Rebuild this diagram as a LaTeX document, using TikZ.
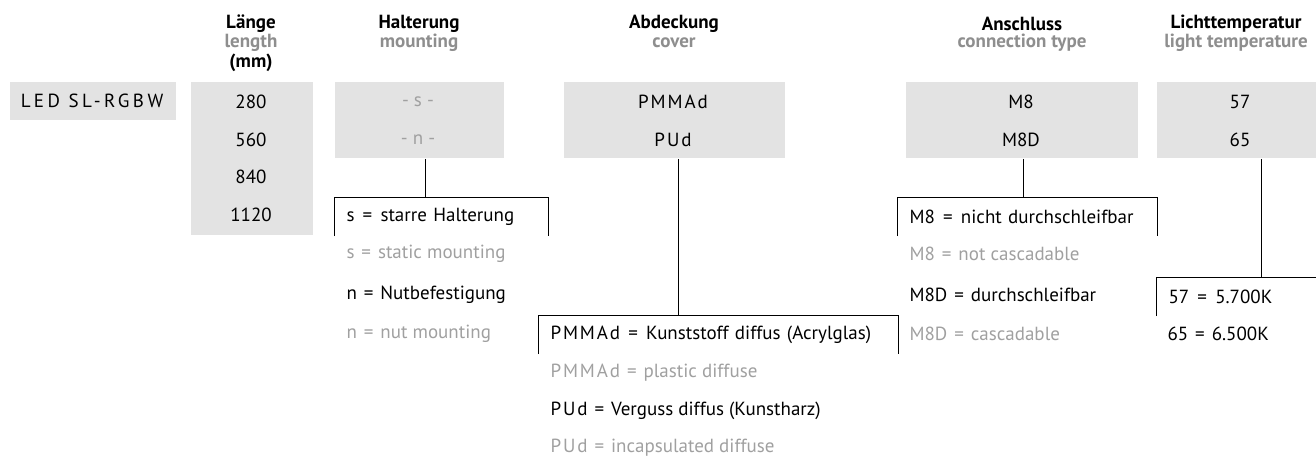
\documentclass[tikz,border=0pt]{standalone}
\usepackage{fontspec}
\setmainfont{PT Sans}
\usepackage{tikz}

\definecolor{boxgray}{HTML}{E3E3E3}
\definecolor{txtgray}{HTML}{A0A0A0}
\definecolor{headgray}{HTML}{8E8E8E}
\newcommand{\spaced}[1]{{\addfontfeature{LetterSpace=10}#1}}
\newcommand{\eq}{\ \hspace{0.1em}=\hspace{0.1em}\ }

\begin{document}
\begin{tikzpicture}[x=1pt,y=-1pt,
  every node/.style={font=\fontsize{19}{22}\selectfont},
  box/.style={fill=boxgray,inner sep=0pt,anchor=north west},
  head/.style={font=\fontsize{19}{22}\selectfont\bfseries},
  eng/.style={text=headgray},
  gr/.style={text=txtgray},
  leg/.style={anchor=west,inner sep=0pt},
  legbox/.style={anchor=north west,minimum height=38pt,inner xsep=12pt,inner ysep=0pt,align=left},
  line width=1pt]
\useasboundingbox (0,0) rectangle (1316,457);

% gray boxes
\node[box,minimum width=166pt,minimum height=38pt] (led) at (9,82) {};
\node[box,minimum width=122pt,minimum height=152pt] (len) at (190,82) {};
\node[box,minimum width=169pt,minimum height=76pt] (halt) at (334,82) {};
\node[box,minimum width=221pt,minimum height=76pt] (abd) at (563,82) {};
\node[box,minimum width=232pt,minimum height=76pt] (ans) at (905,82) {};
\node[box,minimum width=210pt,minimum height=76pt] (licht) at (1156,82) {};

% headings
\node[head] (hlen) at (251,24) {Länge};
\node[head,eng] (hlen2) at (251,43) {length};
\node[head] (hlen3) at (251,63) {(mm)};
\node[head] (hhalt) at (419,24) {Halterung};
\node[head,eng] (hhalt2) at (419,43) {mounting};
\node[head] (habd) at (674,24) {Abdeckung};
\node[head,eng] (habd2) at (674,43) {cover};
\node[head] (hans) at (1022,24) {Anschluss};
\node[head,eng] (hans2) at (1022,43) {connection type};
\node[head] (hlicht) at (1236,24) {Lichttemperatur};
\node[head,eng] (hlicht2) at (1236,43) {light temperature};

% box contents
\node (tled) at (92,101) {{\addfontfeature{LetterSpace=18}LED SL-RGBW}};
\node (l1) at (251,102) {280};
\node (l2) at (251,140) {560};
\node (l3) at (251,177) {840};
\node (l4) at (251,215) {1120};
\node[gr] (s) at (418,102) {- s -};
\node[gr] (n) at (418,140) {- n -};
\node (pm) at (673,102) {\spaced{PMMAd}};
\node (pu) at (673,140) {\spaced{PUd}};
\node (m8) at (1021,102) {M8};
\node (m8d) at (1021,140) {M8D};
\node (t57) at (1240,102) {57};
\node (t65) at (1240,140) {65};

% legend
\node[legbox,minimum width=213pt,text width=189pt] (h1) at (334,197) {s\eq starre Halterung};
\node[leg,gr] (h2) at (346,254) {s\eq static mounting};
\node[leg] (h3) at (346,295) {n\eq Nutbefestigung};
\node[leg,gr] (h4) at (346,334) {n\eq nut mounting};

\node[legbox,minimum width=359pt,text width=335pt] (a1) at (538,315) {\spaced{PMMAd}\eq Kunststoff diffus (Acrylglas)};
\node[leg,gr] (a2) at (550,373) {\spaced{PMMAd}\eq plastic diffuse};
\node[leg] (a3) at (550,411) {\spaced{PUd}\eq Verguss diffus (Kunstharz)};
\node[leg,gr] (a4) at (550,448) {\spaced{PUd}\eq incapsulated diffuse};

\node[legbox,minimum width=259pt,text width=235pt] (c1) at (897,197) {M8\eq nicht durchschleifbar};
\node[leg,gr] (c2) at (909,254) {M8\eq not cascadable};
\node[leg] (c3) at (909,295) {M8D\eq durchschleifbar};
\node[leg,gr] (c4) at (909,334) {M8D\eq cascadable};

\node[legbox,minimum width=220pt,text width=196pt] (k1) at (1156,277) {57\eq 5.700K};
\node[leg] (k2) at (1167,334) {65\eq 6.500K};

% connectors
\draw ([xshift=6.5pt]halt.south) -- ([xshift=6.5pt]halt.south |- h1.north);
\draw (h1.south west) -- (h1.north west) -- (h1.north east) -- (h1.south east);
\draw ([xshift=4.5pt]abd.south) -- ([xshift=4.5pt]abd.south |- a1.north);
\draw (a1.south west) -- (a1.north west) -- (a1.north east) -- (a1.south east);
\draw ([xshift=2pt]ans.south) -- ([xshift=2pt]ans.south |- c1.north);
\draw (c1.south west) -- (c1.north west) -- (c1.north east) -- (c1.south east);
\draw (licht.south) -- (licht.south |- k1.north);
\draw (k1.south west) -- (k1.north west) -- (k1.north east);
\end{tikzpicture}
\end{document}
